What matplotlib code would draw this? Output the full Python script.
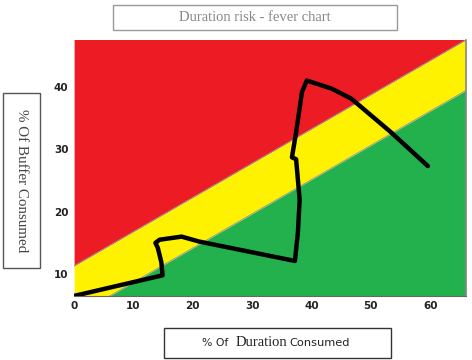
import matplotlib.pyplot as plt
import numpy as np
from matplotlib.patches import Rectangle

# fever chart data
duration = [0, 14.9, 14.7, 14.1, 13.7, 14.4, 18.1, 21.1, 37.2, 37.7, 38.0,
            37.4, 36.7, 37.4, 38.4, 39.2, 43.4, 46.7, 53.4, 59.6]
buffer = [6.5, 9.8, 11.9, 14.2, 15.0, 15.5, 16.0, 15.2, 12.1, 16.6, 21.9,
          28.4, 28.7, 32.7, 39.2, 41.0, 39.7, 38.1, 32.7, 27.3]

# zone boundaries (at x = 0 and x = 66)
band_x = [0, 66]
red_edge = [11.3, 47.5]
green_edge = [3.2, 39.4]

xticks = [0, 10, 20, 30, 40, 50, 60]
yticks = [10, 20, 30, 40]

fig = plt.figure(figsize=(4.72, 3.6), dpi=100)
ax = fig.add_axes([0.157, 0.178, 0.83, 0.711])
ax.set_xlim(0, 66)
ax.set_ylim(6.5, 47.5)

ax.fill_between(band_x, red_edge, [60, 60], color='#ED1C24', lw=0)
ax.fill_between(band_x, green_edge, red_edge, color='#FFF200', lw=0)
ax.fill_between(band_x, [0, 0], green_edge, color='#22B14C', lw=0)
ax.plot(band_x, red_edge, color='#999999', lw=0.7)
ax.plot(band_x, green_edge, color='#999999', lw=0.7)

ax.plot(duration, buffer, color='black', lw=3.2, solid_joinstyle='round',
        solid_capstyle='round')

ax.set_xticks(xticks)
ax.set_yticks(yticks)
ax.tick_params(length=0, labelsize=7.5, colors='#222222', pad=4)
for lab in ax.get_xticklabels() + ax.get_yticklabels():
    lab.set_fontweight('semibold')
for s in ['top', 'left']:
    ax.spines[s].set_visible(False)
ax.spines['bottom'].set_color('#666666')
ax.spines['right'].set_color('#888888')
ax.spines['bottom'].set_linewidth(0.8)
ax.spines['right'].set_linewidth(1.2)

# title box
fig.patches.append(Rectangle((0.239, 0.917), 0.602, 0.069, transform=fig.transFigure,
                             fill=False, ec='#999999', lw=1))
fig.text(0.540, 0.951, 'Duration risk - fever chart', ha='center', va='center',
         family='Liberation Serif', fontsize=10.5, color='#888888')

# y label box
fig.patches.append(Rectangle((0.006, 0.256), 0.078, 0.486, transform=fig.transFigure,
                             fill=False, ec='#555555', lw=1))
fig.text(0.046, 0.499, '% Of Buffer Consumed', ha='center', va='center',
         rotation=-90, family='Liberation Serif', fontsize=10.8, color='#444444')

# x label box
fig.patches.append(Rectangle((0.347, 0.006), 0.481, 0.083, transform=fig.transFigure,
                             fill=False, ec='#333333', lw=1))
fig.text(202 / 472, 0.047, '% Of', ha='left', va='center',
         family='DejaVu Sans', fontsize=7.8, color='#222222')
fig.text(236 / 472, 0.049, 'Duration', ha='left', va='center',
         family='Liberation Serif', fontsize=10.5, color='#222222')
fig.text(289 / 472, 0.047, 'Consumed', ha='left', va='center',
         family='DejaVu Sans', fontsize=8.2, color='#222222')

fig.savefig('out.png', dpi=100)
